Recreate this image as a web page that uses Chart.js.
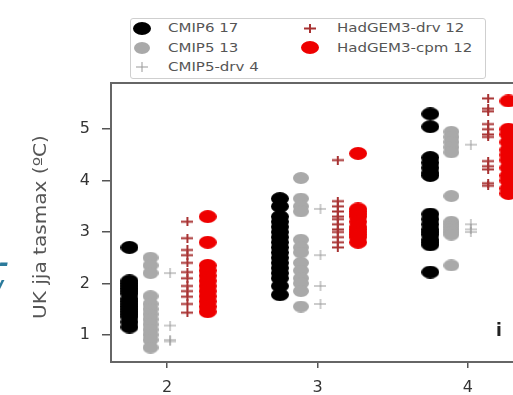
<!DOCTYPE html>
<html lang="en">
<head>
<meta charset="UTF-8" />
<meta name="viewport" content="width=device-width, initial-scale=1.0" />
<title>UK jja tasmax</title>
<script src="https://cdn.jsdelivr.net/npm/chart.js"></script>
<style>
  body {
    margin: 0;
    width: 513px;
    height: 395px;
    overflow: hidden;
    background: #fff;
    position: relative;
    font-family: 'DejaVu Sans', sans-serif;
  }
  #wrap { position: absolute; left: 0; top: 0; }
  .legend {
    position: absolute;
    left: 130px; top: 18px;
    width: 354px; height: 59px;
    border: 1px solid #cfcfcf;
    border-radius: 3px;
    background: #fff;
  }
  .mk { position: absolute; }
  .lt {
    position: absolute;
    font-size: 12px;
    line-height: 14px;
    color: #555;
    white-space: nowrap;
    transform: scaleX(1.25);
    transform-origin: left center;
  }
  .ytitle {
    position: absolute;
    left: 40px; top: 227px;
    font-size: 17px;
    line-height: 20px;
    color: #555;
    white-space: nowrap;
    transform: translate(-50%, -50%) rotate(-90deg) scaleX(1.18);
    transform-origin: center;
  }
  .panel { position: absolute; left: 496px; top: 320px; font-size: 17px; font-weight: bold; color: #222; }
  .edge { position: absolute; color: #2b7a9b; font-size: 24px; font-weight: bold; font-style: italic; }
</style>
</head>
<body>
  <div id="wrap"><canvas id="c" width="530" height="395"></canvas></div>

  <div class="legend"></div>
  <div id="legendItems"></div>

  <span class="ytitle">UK jja tasmax (ºC)</span>
  <span class="panel">i</span>
  <span class="edge" style="left:-1px; top:249px;">-</span>
  <span class="edge" style="left:-6px; top:276px;">/</span>

<script>
  // axis ticks / categories
  const xTicks = [2, 3, 4];
  const yTicks = [1, 2, 3, 4, 5];

  // values per category (2, 3, 4)
  const cmip6 = [
    [2.7, 2.05, 2.0, 1.95, 1.9, 1.85, 1.8, 1.7, 1.65, 1.6, 1.55, 1.5, 1.45, 1.4, 1.35, 1.25, 1.15],
    [3.65, 3.5, 3.3, 3.2, 3.1, 3.0, 2.9, 2.8, 2.7, 2.6, 2.5, 2.4, 2.3, 2.2, 2.1, 1.95, 1.78],
    [5.3, 5.05, 4.45, 4.35, 4.25, 4.15, 4.1, 3.35, 3.25, 3.15, 3.05, 3.0, 2.95, 2.85, 2.8, 2.75, 2.22]
  ];
  const cmip5 = [
    [2.5, 2.35, 2.2, 1.75, 1.6, 1.5, 1.4, 1.3, 1.2, 1.1, 1.0, 0.9, 0.75],
    [4.05, 3.65, 3.5, 3.4, 2.85, 2.7, 2.6, 2.4, 2.25, 2.1, 2.0, 1.85, 1.55],
    [4.95, 4.85, 4.75, 4.65, 4.55, 3.7, 3.2, 3.15, 3.1, 3.05, 3.0, 2.95, 2.35]
  ];
  const cmip5Drv = [
    [2.2, 1.18, 0.9, 0.87],
    [3.45, 2.55, 1.95, 1.6],
    [4.7, 3.15, 3.05, 3.0]
  ];
  const hadDrv = [
    [3.2, 2.88, 2.65, 2.55, 2.4, 2.22, 2.1, 1.95, 1.85, 1.74, 1.6, 1.43],
    [4.4, 3.6, 3.5, 3.4, 3.3, 3.25, 3.15, 3.05, 3.0, 2.9, 2.8, 2.7],
    [5.6, 5.4, 5.35, 5.1, 5.0, 4.9, 4.85, 4.38, 4.28, 4.22, 3.95, 3.9]
  ];
  const hadCpm = [
    [3.3, 2.8, 2.35, 2.25, 2.15, 2.05, 1.95, 1.85, 1.75, 1.65, 1.55, 1.45],
    [4.53, 3.45, 3.4, 3.35, 3.3, 3.2, 3.1, 3.05, 3.0, 2.95, 2.9, 2.8],
    [5.55, 5.0, 4.9, 4.75, 4.6, 4.5, 4.4, 4.25, 4.1, 4.0, 3.85, 3.75]
  ];

  const names = ['CMIP6', 'CMIP5', 'CMIP5-drv', 'HadGEM3-drv', 'HadGEM3-cpm'];

  function ellipse(w, h, color) {
    const c = document.createElement('canvas');
    c.width = w; c.height = h;
    const g = c.getContext('2d');
    g.fillStyle = color;
    g.beginPath();
    g.ellipse(w / 2, h / 2, w / 2, h / 2, 0, 0, Math.PI * 2);
    g.fill();
    return c;
  }

  function plus(w, h, color, lw) {
    const c = document.createElement('canvas');
    c.width = w; c.height = h;
    const g = c.getContext('2d');
    g.strokeStyle = color;
    g.lineWidth = lw;
    g.beginPath();
    g.moveTo(0, h / 2); g.lineTo(w, h / 2);
    g.moveTo(w / 2, 0); g.lineTo(w / 2, h);
    g.stroke();
    return c;
  }

  const styles = [
    { off: -0.25, mark: ellipse(18, 13, '#000000') },
    { off: -0.11, mark: ellipse(16, 12, '#a9a9a9') },
    { off: 0.02, mark: plus(12, 10, '#999999', 1) },
    { off: 0.135, mark: plus(12, 9, '#a83232', 2) },
    { off: 0.27, mark: ellipse(18, 13, '#ee0000') }
  ];
  const series = [cmip6, cmip5, cmip5Drv, hadDrv, hadCpm];

  const toPoints = (vals, off) =>
    vals.flatMap((col, i) => col.map(v => ({ x: xTicks[i] + off, y: v })));

  const frame = {
    id: 'frame',
    afterDraw(chart) {
      const a = chart.chartArea;
      const ctx = chart.ctx;
      ctx.save();
      ctx.strokeStyle = '#666';
      ctx.lineWidth = 2;
      ctx.strokeRect(a.left, a.top, a.right - a.left, a.bottom - a.top);
      ctx.restore();
    }
  };

  new Chart(document.getElementById('c'), {
    type: 'scatter',
    data: {
      datasets: series.map((s, k) => ({
        label: names[k],
        data: toPoints(s, styles[k].off),
        pointStyle: styles[k].mark,
        pointRadius: 7
      }))
    },
    options: {
      responsive: false,
      animation: false,
      devicePixelRatio: 1,
      layout: { padding: { top: 83, right: 8, left: 0, bottom: 0 } },
      plugins: { legend: { display: false }, tooltip: { enabled: false } },
      scales: {
        x: {
          type: 'linear',
          min: 1.627,
          max: 4.36,
          afterBuildTicks: s => { s.ticks = xTicks.map(v => ({ value: v })); },
          afterFit: s => { s.height = 33; },
          border: { display: false },
          grid: { drawOnChartArea: false, tickLength: 6, tickColor: '#555', lineWidth: 1.5 },
          ticks: { font: { family: 'DejaVu Sans', size: 16 }, color: '#333', padding: 10 }
        },
        y: {
          min: 0.47,
          max: 5.9,
          afterBuildTicks: s => { s.ticks = yTicks.map(v => ({ value: v })); },
          afterFit: s => { s.width = 111; },
          border: { display: false },
          grid: { drawOnChartArea: false, tickLength: 9, tickColor: '#555', lineWidth: 1.5 },
          ticks: { font: { family: 'DejaVu Sans', size: 16 }, color: '#333', padding: 12 }
        }
      }
    },
    plugins: [frame]
  });

  // legend: two columns, markers reuse the dataset marker canvases
  const slots = [
    { mx: 142, tx: 168, y: 28 },
    { mx: 142, tx: 168, y: 47.5 },
    { mx: 142, tx: 168, y: 67 },
    { mx: 310, tx: 337, y: 28 },
    { mx: 310, tx: 337, y: 47.5 }
  ];
  const box = document.getElementById('legendItems');
  slots.forEach((p, k) => {
    const src = styles[k].mark;
    const m = document.createElement('canvas');
    m.width = src.width; m.height = src.height;
    m.getContext('2d').drawImage(src, 0, 0);
    m.className = 'mk';
    m.style.left = (p.mx - src.width / 2) + 'px';
    m.style.top = (p.y - src.height / 2) + 'px';
    box.appendChild(m);
    const t = document.createElement('span');
    t.className = 'lt';
    t.style.left = p.tx + 'px';
    t.style.top = (p.y - 7) + 'px';
    t.textContent = names[k] + ' ' + series[k][0].length;
    box.appendChild(t);
  });
</script>
</body>
</html>
